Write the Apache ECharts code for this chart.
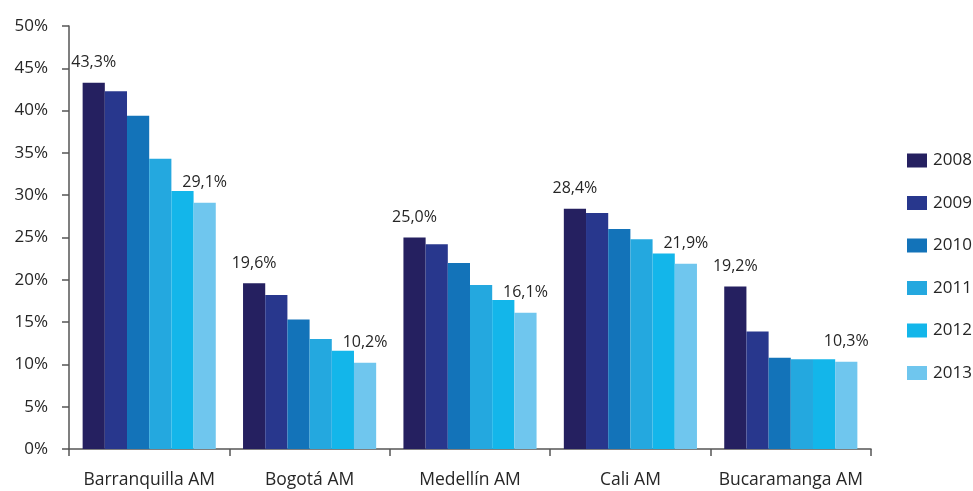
<!DOCTYPE html>
<html>
<head>
<meta charset="utf-8">
<script src="https://cdn.jsdelivr.net/npm/echarts@6/dist/echarts.min.js"></script>
<style>
  html, body { margin: 0; padding: 0; background: #ffffff; }
  #chart { width: 973px; height: 491px; }
</style>
</head>
<body>
<div id="chart"></div>
<script>
// Metropolitan areas on the x axis
const categories = ['Barranquilla AM', 'Bogotá AM', 'Medellín AM', 'Cali AM', 'Bucaramanga AM'];

// Share (%) per year, one array per series
const years = ['2008', '2009', '2010', '2011', '2012', '2013'];
const v2008 = [43.3, 19.6, 25.0, 28.4, 19.2];
const v2009 = [42.3, 18.2, 24.2, 27.9, 13.9];
const v2010 = [39.4, 15.3, 22.0, 26.0, 10.8];
const v2011 = [34.3, 13.0, 19.4, 24.8, 10.6];
const v2012 = [30.5, 11.6, 17.6, 23.1, 10.6];
const v2013 = [29.1, 10.2, 16.1, 21.9, 10.3];

// Value-axis ticks
const yTicks = [0, 5, 10, 15, 20, 25, 30, 35, 40, 45, 50];

const seriesValues = [v2008, v2009, v2010, v2011, v2012, v2013];
const colors = ['#252060', '#28378d', '#1373b9', '#24a8df', '#13b6ea', '#6fc6ee'];
// Only the first and last years carry value labels
const labelled = ['2008', '2013'];

const FONT = "'Open Sans', sans-serif";
const TEXT = '#262626';
const AXIS = '#555555';

const fmt = v => v.toFixed(1).replace('.', ',') + '%';

const chart = echarts.init(document.getElementById('chart'), null, { renderer: 'canvas' });

const series = years.map((y, i) => ({
  name: y,
  type: 'bar',
  data: seriesValues[i],
  barGap: '0%',
  barCategoryGap: '17%',
  itemStyle: { color: colors[i] },
  label: {
    show: labelled.includes(y),
    position: 'top',
    distance: 12,
    color: TEXT,
    fontFamily: FONT,
    fontSize: 16,
    formatter: p => fmt(p.value)
  },
  emphasis: { disabled: true }
}));

chart.setOption({
  animation: false,
  textStyle: { fontFamily: FONT },
  grid: { left: 69, right: 102, top: 26, bottom: 42, containLabel: false },
  legend: {
    orient: 'vertical',
    left: 902,
    top: 147,
    itemWidth: 20,
    itemHeight: 14,
    itemGap: 25.5,
    icon: 'rect',
    data: years,
    textStyle: { color: TEXT, fontFamily: FONT, fontSize: 17, padding: [0, 0, 0, 1] }
  },
  xAxis: {
    type: 'category',
    data: categories,
    axisLine: { lineStyle: { color: AXIS, width: 1.5 } },
    axisTick: { show: true, interval: 0, length: 7, inside: false, lineStyle: { color: AXIS, width: 1.5 } },
    axisLabel: { interval: 0, color: TEXT, fontFamily: FONT, fontSize: 17.5, margin: 22 },
    splitLine: { show: false }
  },
  yAxis: {
    type: 'value',
    min: yTicks[0],
    max: yTicks[yTicks.length - 1],
    interval: yTicks[1] - yTicks[0],
    axisLine: { show: true, lineStyle: { color: AXIS, width: 1.5 } },
    axisTick: { show: true, length: 7, lineStyle: { color: AXIS, width: 1.5 } },
    axisLabel: { color: TEXT, fontFamily: FONT, fontSize: 17, margin: 21, formatter: v => v + '%' },
    splitLine: { show: false }
  },
  series: series
});
</script>
</body>
</html>
